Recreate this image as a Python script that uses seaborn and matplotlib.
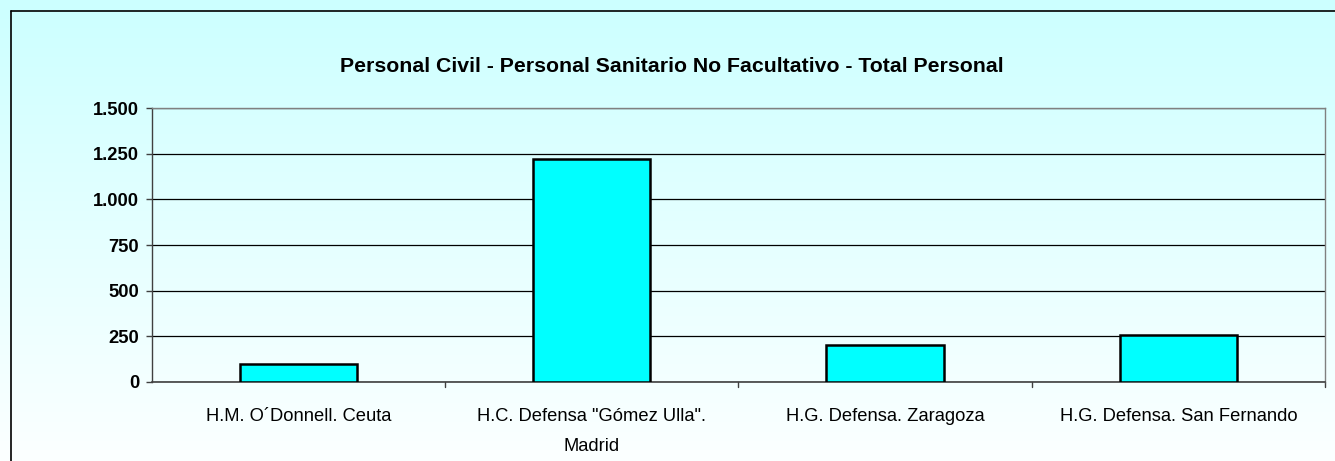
import numpy as np
import pandas as pd
import matplotlib
matplotlib.use("Agg")
import matplotlib.pyplot as plt
import seaborn as sns
from matplotlib.colors import LinearSegmentedColormap
from matplotlib.lines import Line2D

categories = ['H.M. O´Donnell. Ceuta', 'H.C. Defensa "Gómez Ulla".\nMadrid',
              'H.G. Defensa. Zaragoza', 'H.G. Defensa. San Fernando']
values = [95, 1222, 200, 258]
yticks = [0, 250, 500, 750, 1000, 1250, 1500]
ytick_labels = ['0', '250', '500', '750', '1.000', '1.250', '1.500']
title = 'Personal Civil - Personal Sanitario No Facultativo - Total Personal'

sns.set_theme(style="white")
plt.rcParams['font.family'] = ['Liberation Sans', 'DejaVu Sans']

W, H = 1335, 461
fig = plt.figure(figsize=(W / 100, H / 100), dpi=100)

# gradient background
bg = fig.add_axes([0, 0, 1, 1], zorder=-10)
cmap = LinearSegmentedColormap.from_list('bg', ['#CCFFFF', '#FCFFFF'])
grad = np.linspace(0, 1, 256).reshape(-1, 1)
bg.imshow(grad, aspect='auto', cmap=cmap, extent=[0, 1, 0, 1], origin='upper')
bg.set_axis_off()
# outer border (left and top visible)
fig.add_artist(Line2D([10.5 / W, 10.5 / W], [0, 1 - 11 / H], transform=fig.transFigure,
                      color='black', lw=1.2))
fig.add_artist(Line2D([10.5 / W, 1.0], [1 - 11 / H, 1 - 11 / H], transform=fig.transFigure,
                      color='black', lw=1.2))

x0, x1 = 151.7, 1325.0
y0, y1 = 381.7, 108.3
ax = fig.add_axes([x0 / W, 1 - y0 / H, (x1 - x0) / W, (y0 - y1) / H])
ax.set_facecolor('none')

df = pd.DataFrame({'cat': categories, 'val': values})
sns.barplot(data=df, x='cat', y='val', ax=ax, color='#00FFFF', width=0.4,
            edgecolor='black', linewidth=1.8, saturation=1, zorder=3)

ax.set_ylim(0, 1500)
ax.set_xlim(-0.5, 3.5)
ax.set_yticks(yticks)
ax.set_yticklabels(ytick_labels, fontsize=13.2, fontweight='bold', color='black')
ax.yaxis.grid(True, color='black', lw=0.9, zorder=0)
ax.set_axisbelow(True)
ax.set_xticks(range(4))
ax.set_xticklabels(categories, fontsize=13.2, color='black', linespacing=2.0)
ax.tick_params(axis='x', length=0, pad=19)
ax.tick_params(axis='y', left=True, length=4, width=1, color='#404040', pad=5)
for b in [0.5, 1.5, 2.5, 3.5]:
    ax.plot([b, b], [0, -0.02], transform=ax.get_xaxis_transform(), color='#404040',
            lw=1, clip_on=False)
ax.set_xlabel('')
ax.set_ylabel('')
for side in ['top', 'right']:
    ax.spines[side].set_color('#808080')
    ax.spines[side].set_linewidth(1)
ax.spines['left'].set_color('#404040')
ax.spines['bottom'].set_color('#404040')
ax.spines['left'].set_linewidth(1)
ax.spines['bottom'].set_linewidth(1.2)
for s in ax.spines.values():
    s.set_visible(True)

fig.text(672 / W, 1 - 66 / H, title, ha='center', va='center',
         fontsize=15.3, fontweight='bold', color='black')

fig.savefig('out.png', dpi=100)
